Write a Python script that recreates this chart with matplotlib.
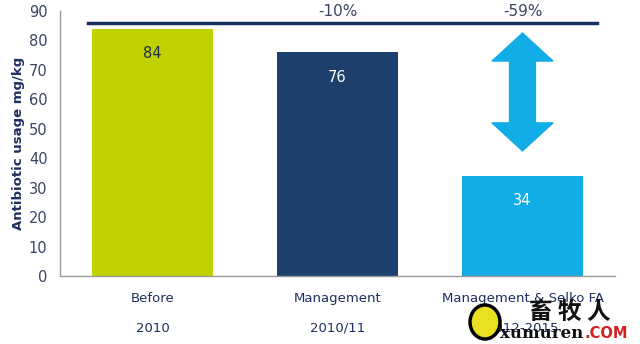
import numpy as np
import matplotlib.pyplot as plt
from matplotlib.patches import Polygon, Ellipse

categories = ['Before', 'Management', 'Management & Selko FA']
periods = ['2010', '2010/11', '2012-2015']
usage = [84, 76, 34]
changes = ['-10%', '-59%']
bar_colors = ['#bfd200', '#1c3f6b', '#12ade6']
label_colors = ['#1c2f50', 'white', 'white']
baseline = 86
arrow_top, arrow_bottom = 82.5, 42.5

navy = '#1c2f5e'
tick_col = '#3b4563'

fig = plt.figure(figsize=(6.4, 3.44), dpi=100)
ax = fig.add_axes([60 / 640, 68 / 344, 555 / 640, 265 / 344])

x = np.arange(len(usage)) + 0.5
bars = ax.bar(x, usage, width=0.65, color=bar_colors, zorder=2)
for xi, v, c in zip(x, usage, label_colors):
    ax.text(xi, v - 8.5, str(v), ha='center', va='center', fontsize=10.5, color=c)

ax.set_xlim(0, 3)
ax.set_ylim(0, 90)
ax.set_yticks(range(0, 91, 10))
ax.set_xticks([])
ax.tick_params(axis='y', length=0, labelsize=10.5, colors=tick_col, pad=9)
for s in ['top', 'right']:
    ax.spines[s].set_visible(False)
for s in ['left', 'bottom']:
    ax.spines[s].set_color('#9a9a9a')
    ax.spines[s].set_linewidth(1)
ax.set_ylabel('Antibiotic usage mg/kg', fontsize=9.5, fontweight='bold', color=navy, labelpad=3)

# reference line at the starting level
ax.plot([0.15, 2.9], [baseline, baseline], color='#14315f', lw=2.5, zorder=3)
for xi, t in zip(x[1:], changes):
    ax.text(xi, 89.7, t, ha='center', va='center', fontsize=11, color=tick_col)

# double-headed arrow over the last bar
cx = x[2]
hw, sw, hl = 0.165, 0.07, 9.5
pts = [(cx, arrow_top), (cx + hw, arrow_top - hl), (cx + sw, arrow_top - hl),
       (cx + sw, arrow_bottom + hl), (cx + hw, arrow_bottom + hl), (cx, arrow_bottom),
       (cx - hw, arrow_bottom + hl), (cx - sw, arrow_bottom + hl), (cx - sw, arrow_top - hl),
       (cx - hw, arrow_top - hl)]
ax.add_patch(Polygon(pts, closed=True, color='#12ade6', zorder=3))

# category and period labels under the axis
for xi, c, p in zip(x, categories, periods):
    ax.text(xi, -7.5, c, ha='center', va='center', fontsize=9.5, color=navy)
    ax.text(xi, -17.8, p, ha='center', va='center', fontsize=9.5, color=navy)

# site watermark
fig.patches.append(Ellipse((485 / 640, 1 - 322 / 344), 30 / 640, 34 / 344,
                           transform=fig.transFigure, facecolor='#e8e020',
                           edgecolor='black', lw=2.5, zorder=5))
fig.text(570 / 640, 1 - 312 / 344, '畜 牧 人', family=['Noto Sans CJK SC', 'DejaVu Sans'],
         fontsize=17, fontweight='bold', ha='center', va='center', color='#111111', zorder=6)
fig.text(500 / 640, 1 - 333 / 344, 'xumuren', family='DejaVu Serif', fontsize=12,
         fontweight='bold', ha='left', va='center', color='#111111', zorder=6)
fig.text(584 / 640, 1 - 333 / 344, '.COM', fontsize=10.5, fontweight='bold',
         ha='left', va='center', color='#d42020', zorder=6)

fig.savefig('out.png', dpi=100)
